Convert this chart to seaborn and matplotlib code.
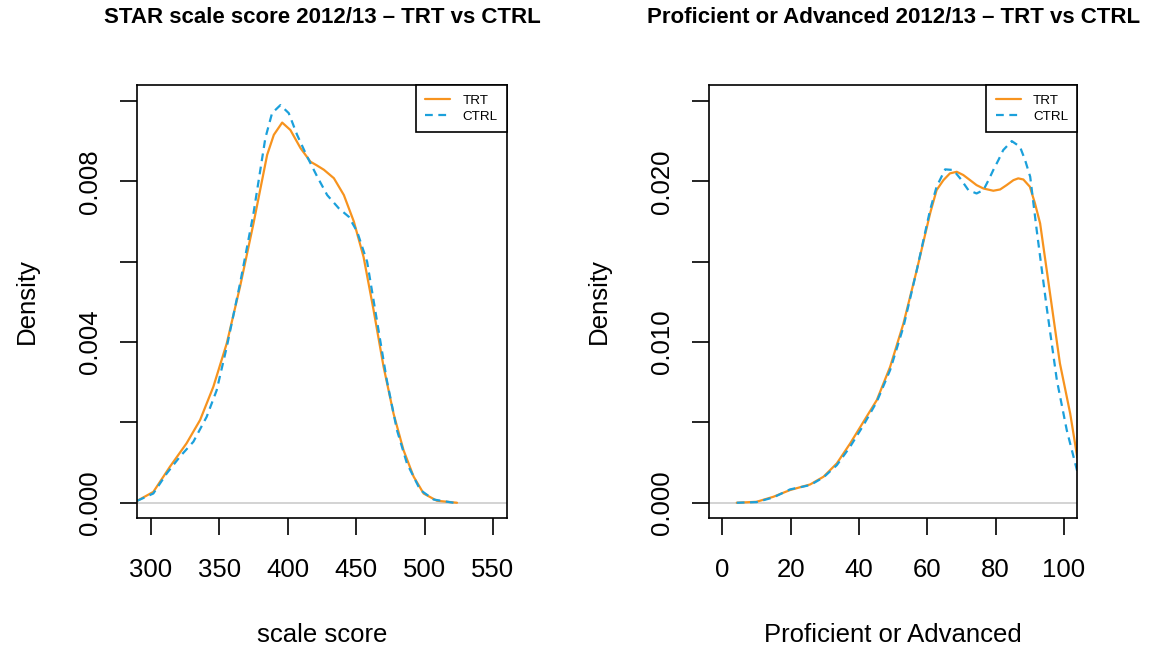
import matplotlib
matplotlib.use("Agg")
import matplotlib.pyplot as plt
import numpy as np
import pandas as pd
import seaborn as sns

# left panel: STAR scale score density
score_trt_x = [290, 301.7, 313.9, 326, 335.9, 345.6, 355.4, 365.1, 374.9, 384.9, 389.8, 395.9,
               401.9, 409.3, 416.6, 421.2, 426.4, 433.7, 441, 448.3, 455.4, 462.7, 470, 477.3,
               484.6, 492, 499.3, 509, 523.7]
score_trt_y = [0.00005, 0.00027, 0.0009, 0.00148, 0.00206, 0.00289, 0.00397, 0.00538, 0.00695,
               0.00866, 0.00916, 0.009465, 0.00928, 0.00883, 0.00849, 0.0084, 0.00829, 0.00808,
               0.00766, 0.007, 0.00612, 0.0048, 0.00339, 0.00222, 0.00131, 0.00065, 0.00023,
               0.00005, 0.0]
score_ctrl_x = [290, 301.7, 311.5, 321.2, 331, 340.7, 348, 355.4, 365.1, 374.9, 383.6, 388.5,
                394.6, 400.7, 406.8, 414.1, 421.5, 428.8, 437.3, 444.6, 450.7, 458, 465.1,
                472.4, 479.8, 487.1, 496.8, 506.6, 521.2]
score_ctrl_y = [0.00005, 0.00023, 0.00073, 0.00115, 0.00152, 0.00214, 0.0028, 0.00388, 0.00546,
                0.0072, 0.00908, 0.0097, 0.0099, 0.0097, 0.00916, 0.00862, 0.00812, 0.00766,
                0.00733, 0.00712, 0.00675, 0.006, 0.00455, 0.00305, 0.00181, 0.00098, 0.00032,
                0.00008, 0.0]

# right panel: Proficient or Advanced density
prof_trt_x = [4.2, 10, 14.9, 19.8, 25.7, 29.6, 33.5, 37.4, 41.3, 45.2, 49.1, 53, 56.9, 60.8,
              62.7, 64.7, 66.6, 68.6, 70.5, 72.5, 74.4, 76.4, 79.3, 81.3, 83.2, 85.2, 86.6,
              88.1, 90, 91.5, 93, 95.9, 98.8, 101.8, 103.9]
prof_trt_y = [0.0, 0.00006, 0.00037, 0.00079, 0.00114, 0.00162, 0.00245, 0.00369, 0.00504,
              0.00639, 0.00846, 0.01116, 0.01448, 0.01801, 0.01946, 0.02008, 0.0205, 0.0206,
              0.0204, 0.02008, 0.01977, 0.01956, 0.01942, 0.0195, 0.01977, 0.02008, 0.02019,
              0.02012, 0.01967, 0.01863, 0.01739, 0.01303, 0.00867, 0.00556, 0.0028]
prof_ctrl_x = [4.2, 10, 14.9, 19.8, 25.7, 29.6, 33.5, 37.4, 41.3, 45.2, 49.1, 53, 56.9, 60.8,
               62.7, 65.2, 67.6, 69.6, 72, 74.4, 76.4, 77.9, 79.3, 80.8, 82.2, 84.7, 87.1, 88.6,
               90.1, 92, 94.9, 97.9, 100.8, 103.9]
prof_ctrl_y = [0.0, 0.00004, 0.00033, 0.00083, 0.0011, 0.00158, 0.00234, 0.00349, 0.00483,
               0.00629, 0.00826, 0.01095, 0.01448, 0.01822, 0.01967, 0.02075, 0.02071, 0.02019,
               0.01946, 0.01925, 0.01946, 0.02008, 0.02071, 0.02133, 0.02195, 0.02251, 0.02216,
               0.02133, 0.02029, 0.01697, 0.0122, 0.00763, 0.00452, 0.00193]

score_ticks = [300, 350, 400, 450, 500, 550]
prof_ticks = [0, 20, 40, 60, 80, 100]

sns.set_style("white")
plt.rcParams['font.family'] = ['Liberation Sans', 'DejaVu Sans']
plt.rcParams['text.color'] = 'black'
plt.rcParams['axes.labelcolor'] = 'black'
plt.rcParams['xtick.color'] = 'black'
plt.rcParams['ytick.color'] = 'black'

orange = '#F7931E'
blue = '#1BA0DB'

fig = plt.figure(figsize=(11.52, 6.52), dpi=100)
ax1 = fig.add_axes([0.1192, 0.2055, 0.3206, 0.6641])
ax2 = fig.add_axes([0.6155, 0.2055, 0.3197, 0.6641])


def draw(ax, tx, ty, cx, cy, title, xlabel, xlim, ylim, xticks, yticks, ylabels):
    ax.axhline(0, color='#D0D0D0', lw=1.3, zorder=0)
    sns.lineplot(x=tx, y=ty, ax=ax, color=orange, lw=1.6, label='TRT',
                 solid_joinstyle='round')
    sns.lineplot(x=cx, y=cy, ax=ax, color=blue, lw=1.6, linestyle=(0, (3.5, 2.5)), label='CTRL',
                 dash_joinstyle='round')
    ax.set_xlim(*xlim)
    ax.set_ylim(*ylim)
    ax.set_xticks(xticks)
    ax.set_yticks(yticks)
    ax.set_yticklabels(ylabels)
    ax.tick_params(axis='both', direction='out', length=12, width=1.2, labelsize=18.5,
                   bottom=True, left=True, colors='black')
    ax.tick_params(axis='x', pad=17)
    ax.tick_params(axis='y', pad=13.5, labelrotation=90)
    plt.setp(ax.get_yticklabels(), va='center')
    for s in ax.spines.values():
        s.set_color('black')
        s.set_linewidth(1.2)
    ax.set_title(title, fontweight='bold', fontsize=16, pad=0, y=1.156, va='center')
    ax.set_xlabel(xlabel, fontsize=18.5, va='center')
    ax.xaxis.set_label_coords(0.5, -0.27)
    ax.set_ylabel('Density', fontsize=18.5, va='center', ha='center')
    ax.yaxis.set_label_coords(-0.30, 0.5)
    leg = ax.legend(loc='upper right', borderaxespad=0, fancybox=False, framealpha=1,
                    edgecolor='black', fontsize=9.6, handlelength=1.9, handletextpad=0.9,
                    borderpad=0.7, labelspacing=0.3)
    leg.get_frame().set_linewidth(1.2)


draw(ax1, score_trt_x, score_trt_y, score_ctrl_x, score_ctrl_y,
     'STAR scale score 2012/13 \u2013 TRT vs CTRL', 'scale score',
     (290, 560), (-0.00038, 0.0104), score_ticks,
     [0, 0.002, 0.004, 0.006, 0.008, 0.010],
     ['0.000', '', '0.004', '', '0.008', ''])
draw(ax2, prof_trt_x, prof_trt_y, prof_ctrl_x, prof_ctrl_y,
     'Proficient or Advanced 2012/13 \u2013 TRT vs CTRL', 'Proficient or Advanced',
     (-3.9, 103.9), (-0.00095, 0.026), prof_ticks,
     [0, 0.005, 0.010, 0.015, 0.020, 0.025],
     ['0.000', '', '0.010', '', '0.020', ''])

fig.savefig('out.png', dpi=100)
